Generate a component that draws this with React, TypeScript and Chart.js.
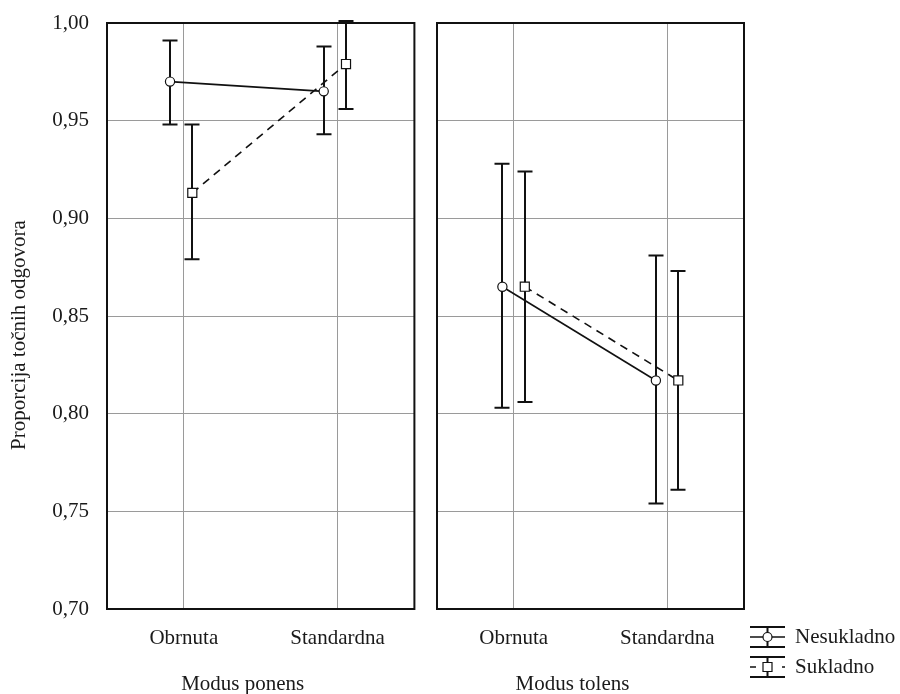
import React, { useEffect, useRef } from "react";
import { Chart, registerables } from "chart.js";

Chart.register(...registerables);

const categories = ["Obrnuta", "Standardna"];
const panelTitles = ["Modus ponens", "Modus tolens"];
const seriesNames = ["Nesukladno", "Sukladno"];
const yTickValues = [0.7, 0.75, 0.8, 0.85, 0.9, 0.95, 1.0];
const yAxisTitle = "Proporcija točnih odgovora";

// Modus ponens
const ponensNesukladno = [0.97, 0.965];
const ponensNesukladnoLow = [0.948, 0.943];
const ponensNesukladnoHigh = [0.991, 0.988];
const ponensSukladno = [0.913, 0.979];
const ponensSukladnoLow = [0.879, 0.956];
const ponensSukladnoHigh = [0.948, 1.001];

// Modus tolens
const tolensNesukladno = [0.865, 0.817];
const tolensNesukladnoLow = [0.803, 0.754];
const tolensNesukladnoHigh = [0.928, 0.881];
const tolensSukladno = [0.865, 0.817];
const tolensSukladnoLow = [0.806, 0.761];
const tolensSukladnoHigh = [0.924, 0.873];

const FONT = "'Liberation Serif', 'Times New Roman', serif";
const FS = 21;
const TEXT = "#1a1a1a";

type Series = { name: string; vals: number[]; low: number[]; high: number[]; off: number; dashed: boolean; style: string };

function frameAndBars() {
  return {
    id: "frameAndBars",
    beforeDatasetsDraw(chart: any) {
      const { ctx, chartArea: a } = chart;
      ctx.save();
      ctx.strokeStyle = "#111";
      ctx.lineWidth = 2;
      ctx.strokeRect(a.left, a.top, a.right - a.left, a.bottom - a.top);
      const xs = chart.scales.x;
      const ys = chart.scales.y;
      chart.data.datasets.forEach((ds: any) => {
        ds.data.forEach((p: any, j: number) => {
          const x = Math.round(xs.getPixelForValue(p.x));
          const yl = ys.getPixelForValue(ds.errLow[j]);
          const yh = ys.getPixelForValue(ds.errHigh[j]);
          ctx.strokeStyle = "#111";
          ctx.lineWidth = 2;
          ctx.beginPath();
          ctx.moveTo(x, yl);
          ctx.lineTo(x, yh);
          ctx.moveTo(x - 7.5, yl);
          ctx.lineTo(x + 7.5, yl);
          ctx.moveTo(x - 7.5, yh);
          ctx.lineTo(x + 7.5, yh);
          ctx.stroke();
        });
      });
      ctx.restore();
    },
  };
}

function titles(panelIdx: number, withYTitle: boolean, withLegend: boolean) {
  return {
    id: "titles" + panelIdx,
    afterDraw(chart: any) {
      const { ctx, chartArea: a } = chart;
      ctx.save();
      ctx.fillStyle = TEXT;
      ctx.font = `${FS}px ${FONT}`;
      ctx.textAlign = "center";
      ctx.textBaseline = "middle";
      ctx.fillText(panelTitles[panelIdx], (a.left + a.right) / 2 - 18, 684);
      if (withYTitle) {
        ctx.save();
        ctx.translate(19, (a.top + a.bottom) / 2 + 19);
        ctx.rotate(-Math.PI / 2);
        ctx.fillText(yAxisTitle, 0, 0);
        ctx.restore();
      }
      if (withLegend) {
        const gx = a.right + 6;
        const gw = 35;
        const cx = gx + gw / 2;
        [637, 667].forEach((cy, k) => {
          ctx.strokeStyle = "#111";
          ctx.lineWidth = 2;
          ctx.beginPath();
          ctx.moveTo(gx, cy - 10);
          ctx.lineTo(gx + gw, cy - 10);
          ctx.moveTo(gx, cy + 10);
          ctx.lineTo(gx + gw, cy + 10);
          ctx.moveTo(cx, cy - 10);
          ctx.lineTo(cx, cy + 10);
          ctx.stroke();
          ctx.lineWidth = 1.5;
          ctx.beginPath();
          if (k === 0) {
            ctx.moveTo(gx, cy);
            ctx.lineTo(gx + gw, cy);
          } else {
            ctx.moveTo(gx, cy);
            ctx.lineTo(gx + 6, cy);
            ctx.moveTo(gx + gw - 3, cy);
            ctx.lineTo(gx + gw, cy);
          }
          ctx.stroke();
          ctx.fillStyle = "#fff";
          ctx.lineWidth = 1.2;
          ctx.beginPath();
          if (k === 0) {
            ctx.arc(cx, cy, 4.5, 0, Math.PI * 2);
          } else {
            ctx.rect(cx - 4.5, cy - 4.5, 9, 9);
          }
          ctx.fill();
          ctx.stroke();
          ctx.fillStyle = TEXT;
          ctx.textAlign = "left";
          ctx.fillText(seriesNames[k], gx + gw + 10, cy);
        });
      }
      ctx.restore();
    },
  };
}

function makeConfig(panelIdx: number, series: Series[], left: boolean): any {
  return {
    type: "line",
    data: {
      datasets: series.map((s) => ({
        label: s.name,
        data: categories.map((_, i) => ({ x: i + s.off, y: s.vals[i] })),
        errLow: s.low,
        errHigh: s.high,
        borderColor: "#111",
        borderWidth: 1.6,
        borderDash: s.dashed ? [8, 6] : [],
        pointStyle: s.style,
        pointRadius: s.style === "rect" ? 6.4 : 4.6,
        pointBorderWidth: 1.2,
        pointBorderColor: "#111",
        pointBackgroundColor: "#fff",
        tension: 0,
        clip: false,
      })),
    },
    options: {
      animation: false,
      responsive: false,
      layout: { padding: { top: 23, right: left ? 7 : 156, left: 0, bottom: 0 } },
      plugins: { legend: { display: false }, tooltip: { enabled: false } },
      scales: {
        x: {
          type: "linear",
          min: -0.5,
          max: 1.5,
          afterBuildTicks: (s: any) => {
            s.ticks = categories.map((_, i) => ({ value: i }));
          },
          afterFit: (s: any) => {
            s.height = 85;
            s.paddingLeft = 0;
            s.paddingRight = 0;
          },
          grid: { color: "#9a9a9a", lineWidth: 1, drawTicks: false },
          border: { display: false },
          ticks: {
            padding: 17,
            color: TEXT,
            font: { family: FONT, size: FS },
            maxRotation: 0,
            callback: (v: number) => categories[Math.round(v)] ?? "",
          },
        },
        y: {
          type: "linear",
          min: 0.7,
          max: 1.0,
          afterBuildTicks: (s: any) => {
            s.ticks = yTickValues.map((v) => ({ value: v }));
          },
          afterFit: (s: any) => {
            s.width = left ? 107 : 15;
            s.paddingTop = 0;
            s.paddingBottom = 0;
          },
          grid: { color: "#9a9a9a", lineWidth: 1, drawTicks: false },
          border: { display: false },
          ticks: {
            display: left,
            padding: 18,
            color: TEXT,
            font: { family: FONT, size: FS },
            callback: (v: number) => v.toFixed(2).replace(".", ","),
          },
        },
      },
    },
    plugins: [frameAndBars(), titles(panelIdx, left, !left)],
  };
}

export default function App() {
  const leftRef = useRef<HTMLCanvasElement>(null);
  const rightRef = useRef<HTMLCanvasElement>(null);

  useEffect(() => {
    const ponens: Series[] = [
      { name: seriesNames[0], vals: ponensNesukladno, low: ponensNesukladnoLow, high: ponensNesukladnoHigh, off: -0.09, dashed: false, style: "circle" },
      { name: seriesNames[1], vals: ponensSukladno, low: ponensSukladnoLow, high: ponensSukladnoHigh, off: 0.055, dashed: true, style: "rect" },
    ];
    const tolens: Series[] = [
      { name: seriesNames[0], vals: tolensNesukladno, low: tolensNesukladnoLow, high: tolensNesukladnoHigh, off: -0.074, dashed: false, style: "circle" },
      { name: seriesNames[1], vals: tolensSukladno, low: tolensSukladnoLow, high: tolensSukladnoHigh, off: 0.072, dashed: true, style: "rect" },
    ];
    const c1 = new Chart(leftRef.current!, makeConfig(0, ponens, true));
    const c2 = new Chart(rightRef.current!, makeConfig(1, tolens, false));
    return () => {
      c1.destroy();
      c2.destroy();
    };
  }, []);

  return (
    <div style={{ position: "fixed", left: 0, top: 0, width: 900, height: 694, background: "#fff" }}>
      <canvas ref={leftRef} width={422} height={694} style={{ position: "absolute", left: 0, top: 0, width: 422, height: 694 }} />
      <canvas ref={rightRef} width={478} height={694} style={{ position: "absolute", left: 422, top: 0, width: 478, height: 694 }} />
    </div>
  );
}
